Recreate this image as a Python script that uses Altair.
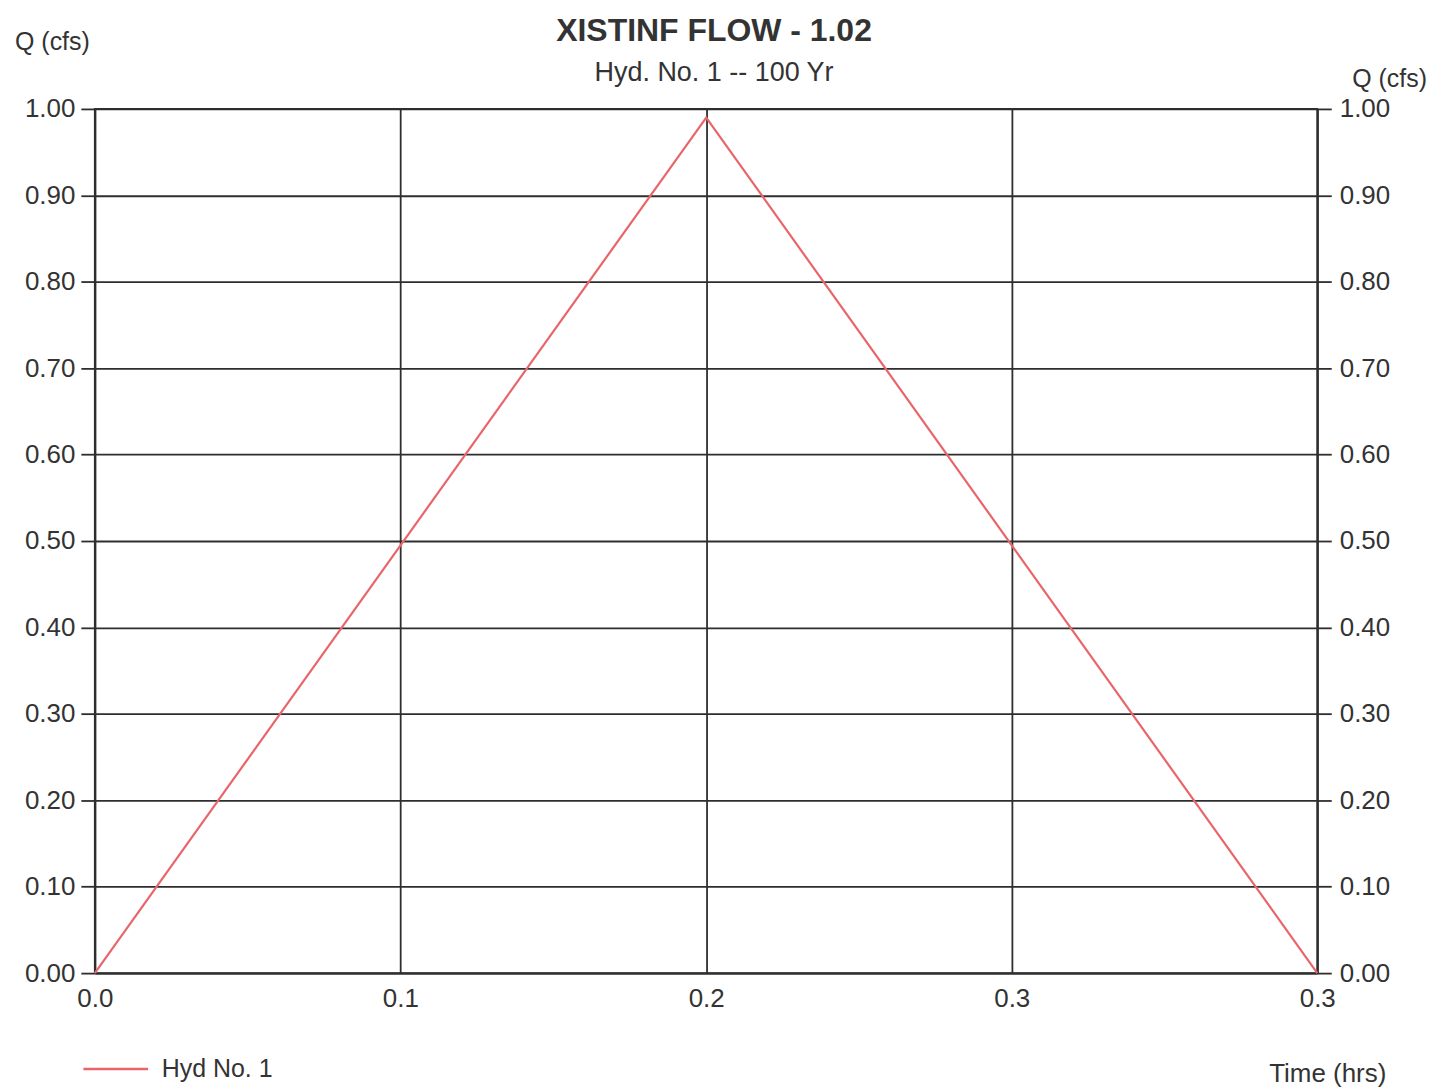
import altair as alt
import pandas as pd

# Data
time_hrs = [0.0, 0.1667, 0.3333]
flow_cfs = [0.0, 0.99, 0.0]
series = ["Hyd No. 1", "Hyd No. 1", "Hyd No. 1"]

x_ticks = [0.0, 0.0833, 0.1667, 0.25, 0.3333]
y_ticks = [0.0, 0.1, 0.2, 0.3, 0.4, 0.5, 0.6, 0.7, 0.8, 0.9, 1.0]

df = pd.DataFrame({"t": time_hrs, "q": flow_cfs, "s": series})

FONT = "Liberation Sans"
INK = "#333333"
GRID = "#2e2e2e"

x_enc = alt.X(
    "t:Q",
    scale=alt.Scale(domain=[0, 0.3333], nice=False, zero=False),
    axis=alt.Axis(
        values=x_ticks, format=".1f", title="Time (hrs)", grid=True,
        ticks=False, labelPadding=12, labelFlush=False,
        titleX=1235, titleY=101, titleAlign="center", titleBaseline="middle",
        titleAngle=0, titleFontSize=26,
    ),
)

base = alt.Chart(df)

left = base.mark_line(strokeWidth=2.2).encode(
    x=x_enc,
    y=alt.Y(
        "q:Q",
        scale=alt.Scale(domain=[0, 1], nice=False),
        axis=alt.Axis(
            orient="left", values=y_ticks, format=".2f", title="Q (cfs)",
            grid=True, tickSize=14, labelPadding=6,
            titleAngle=0, titleX=-43, titleY=-68,
            titleAlign="center", titleBaseline="middle",
        ),
    ),
    color=alt.Color(
        "s:N",
        scale=alt.Scale(domain=["Hyd No. 1"], range=["#e8666a"]),
        legend=alt.Legend(
            title=None, orient="none", legendX=-13, legendY=928,
            symbolType="stroke", symbolSize=4200, symbolStrokeWidth=2.5,
            labelFontSize=25, labelFont=FONT, labelColor=INK, labelOffset=12,
        ),
    ),
)

right = base.mark_line(opacity=0).encode(
    x=x_enc,
    y=alt.Y(
        "q:Q",
        scale=alt.Scale(domain=[0, 1], nice=False),
        axis=alt.Axis(
            orient="right", values=y_ticks, format=".2f", title="Q (cfs)",
            grid=False, tickSize=14, labelPadding=8,
            titleAngle=0, titleX=72, titleY=-30,
            titleAlign="center", titleBaseline="middle",
        ),
    ),
)

chart = (
    alt.layer(left, right)
    .resolve_scale(y="shared")
    .resolve_axis(y="independent")
    .properties(
        width=1225,
        height=866,
        autosize=alt.AutoSizeParams(type="none"),
        padding={"left": 87, "top": 100, "right": 130, "bottom": 116},
        title=alt.TitleParams(
            text="XISTINF FLOW - 1.02",
            subtitle="Hyd. No. 1 -- 100 Yr",
            anchor="middle",
            font=FONT, fontSize=32, fontWeight="bold", color=INK,
            subtitleFont=FONT, subtitleFontSize=27, subtitleColor=INK,
            subtitlePadding=12, offset=22, dy=80, dx=8,
        ),
        background="white",
    )
    .configure_axis(
        labelFont=FONT, labelFontSize=26, labelColor=INK,
        titleFont=FONT, titleFontSize=25, titleColor=INK, titleFontWeight="normal",
        gridColor=GRID, gridWidth=1.8, gridOpacity=1,
        domainColor=GRID, domainWidth=1.8,
        tickColor=GRID, tickWidth=1.8,
    )
    .configure_view(stroke=GRID, strokeWidth=1.8)
)

chart.save("out.html", embed_options={"renderer": "svg", "actions": False})
